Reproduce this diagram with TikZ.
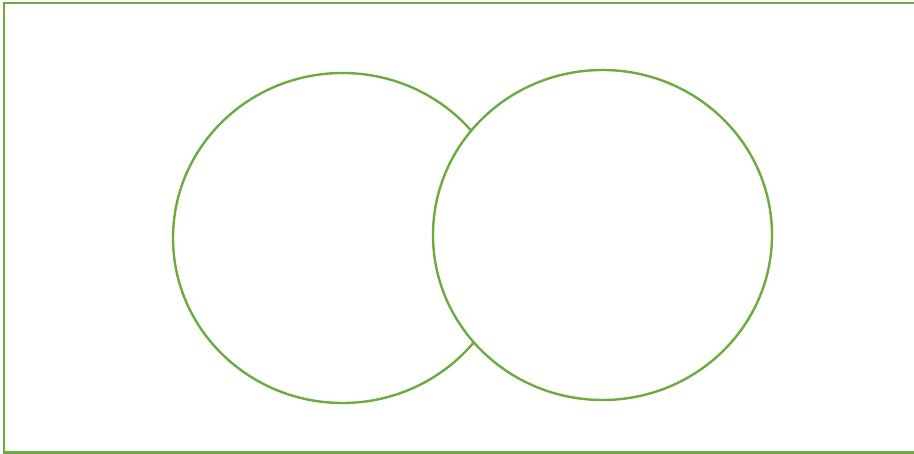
\documentclass[tikz,border=0pt]{standalone}
\definecolor{vgreen}{RGB}{108,172,62}
\begin{document}
\begin{tikzpicture}[x=1pt,y=-1pt,
  outline/.style={draw=vgreen,line width=2.4pt},
  setshape/.style={outline,fill=white}]
\useasboundingbox (0,0) rectangle (914,454);
\clip (0,0) rectangle (914,454);
\draw[outline] (4,3) rectangle (930,452.5);
\draw[setshape] (342.5,238) ellipse [x radius=169.5,y radius=165];
\draw[setshape] (602.5,235) ellipse [x radius=169.5,y radius=165];
\end{tikzpicture}
\end{document}
